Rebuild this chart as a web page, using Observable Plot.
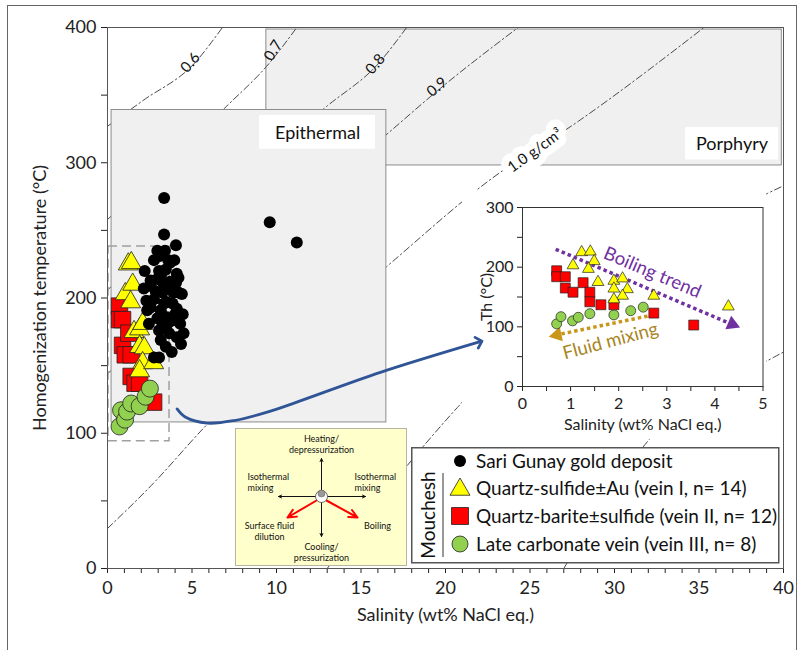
<!DOCTYPE html>
<html>
<head>
<meta charset="utf-8">
<script src="https://cdn.jsdelivr.net/npm/d3@7"></script>
<script src="https://cdn.jsdelivr.net/npm/@observablehq/plot@0.6"></script>
<style>
  body { margin: 0; background: #fff; font-family: Lato, "Open Sans", sans-serif; }
  #wrap { position: relative; width: 802px; height: 650px; overflow: hidden; background: #fff; }
  #border { position: absolute; left: 7px; top: 5px; width: 790px; height: 700px; border: 1.5px solid #666; box-sizing: border-box; }
</style>
</head>
<body>
<div id="wrap"><div id="border"></div></div>
<script>
// ---------------- DATA ----------------
// Sari Gunay gold deposit [salinity wt% NaCl eq., Th °C]
const sariGunay = [
  [3.35,274],[3.35,247],[4.05,239],[2.95,235],[3.4,235],[2.75,228],[3.95,228],[3.6,228],[3.1,231],
  [3.7,226],[2.2,220],[3.05,220],[3.45,221],[4.2,215],[2.55,213],[2.95,214],[3.7,212],[4.1,218],
  [3.2,218],[2.15,207],[3.25,204],[3.9,204],[4.4,203],[2.55,209],[3.6,208],[4.2,204],[2.75,199],
  [3.5,197],[3.35,196],[2.55,193],[4.1,192],[2.35,191],[3.15,191],[4.0,188],[3.45,186],[2.45,181],
  [3.55,181],[4.3,181],[3.05,176],[3.65,174],[4.5,174],[4.1,171],[3.15,169],[3.45,164],[2.75,156],
  [3.05,156],[3.8,160],[4.35,166],[2.95,185],[3.85,196],[2.85,205],[3.3,211],[4.45,188],[2.3,198],
  [4.05,211],[3.75,183],[3.25,180],[9.6,256],[11.2,241]
];
// Mouchesh veins
const veinI = [ // Quartz-sulfide±Au
  [1.05,203],[1.23,225],[1.41,226],[1.49,210],[1.37,197],[1.57,175],[1.90,177],[2.08,181],
  [1.90,164],[2.18,163],[2.08,152],[1.90,146],[2.73,152],[4.28,134]
];
const veinII = [ // Quartz-barite±sulfide
  [0.71,194],[0.71,184],[0.89,184],[0.89,165],[1.05,158],[1.26,174],[1.40,158],[1.40,142],
  [1.63,137],[1.90,137],[2.73,123],[3.56,103]
];
const veinIII = [ // Late carbonate vein
  [0.71,105],[0.80,117],[1.04,110],[1.16,116],[1.40,122],[1.90,120],[2.25,127],[2.51,133]
];
// Fields
const porphyryBox = {x1: 9.4, x2: 39.9, y1: 298, y2: 398.5};
const epithermalBox = {x1: 0.24, x2: 16.5, y1: 108, y2: 339};
const inclusionBox = {x1: 0.06, x2: 3.67, y1: 94, y2: 238};
const fieldLabelBoxes = [
  {x1: 9.0, x2: 15.86, y1: 310, y2: 335},
  {x1: 34.2, x2: 39.7, y1: 302, y2: 326}
];
const fieldLabels = [
  {x: 12.43, y: 322, text: "Epithermal"},
  {x: 36.95, y: 313.5, text: "Porphyry"}
];
// Isochores (density lines, g/cm3)
const iso06 = [[0,327],[2.1,346],[5.1,373],[6.8,400]];
const iso07 = [[0,258],[6.9,340],[9.6,374],[11.2,400]];
const iso08 = [[0,206],[13.0,342],[16.0,373],[17.7,400]];
const iso09 = [[0,144],[16.8,324],[19.5,353],[24.3,400]];
const iso10 = [[0,29.6],[2.7,62.8],[5.7,104],[16.5,223],[22.7,288],[27.9,331],[35.3,400]];
const iso11 = [[13.0,0],[18.8,92],[20.7,119],[39.0,277],[40,283]];
const iso12 = [[27.0,0],[32.1,96],[39.4,156],[40,160]];
const densityLabels = [
  {x: 4.9, y: 374, text: "0.6"},
  {x: 9.8, y: 383, text: "0.7"},
  {x: 15.85, y: 373, text: "0.8"},
  {x: 19.5, y: 356, text: "0.9"},
  {x: 25.3, y: 309, text: "1.0 g/cm³"}
];
const zoomArrow = [[4.12,118],[4.6,112],[5.9,107.5],[7.5,109.4],[9.45,115.6],[11.2,123],[16.15,145],[22.0,167.5]];
// Inset trends
const boilingTrend = [[0.69,230],[4.3,106]];
const boilingHead = [[4.36,104.5]];
const mixingTrend = [[2.6,118],[0.8,88]];
const mixingHead = [[0.72,86.5]];
const trendLabels = [
  {x: 2.70, y: 191, text: "Boiling trend"},
  {x: 1.83, y: 76, text: "Fluid mixing"}
];
// Process diagram (schematic units)
const diagCenter = [{x: 85, y: 67}];
const diagBlackArrows = [
  {x1: 85, y1: 62, x2: 85, y2: 29},
  {x1: 85, y1: 73, x2: 85, y2: 107},
  {x1: 80, y1: 67, x2: 42, y2: 67},
  {x1: 90, y1: 67, x2: 129, y2: 67}
];
const diagRedArrows = [
  {x1: 80, y1: 71, x2: 51, y2: 88},
  {x1: 90, y1: 71, x2: 121, y2: 88}
];
const diagLabelsMiddle = [
  {x: 85, y: 10, text: "Heating/"},
  {x: 85, y: 21, text: "depressurization"},
  {x: 33, y: 97, text: "Surface fluid"},
  {x: 33, y: 108, text: "dilution"},
  {x: 141, y: 97, text: "Boiling"},
  {x: 85, y: 118, text: "Cooling/"},
  {x: 85, y: 129, text: "pressurization"}
];
const diagLabelsStart = [
  {x: 11, y: 48, text: "Isothermal"},
  {x: 11, y: 59, text: "mixing"},
  {x: 118, y: 48, text: "Isothermal"},
  {x: 118, y: 59, text: "mixing"}
];
const legendLabels = [
  "Sari Gunay gold deposit",
  "Quartz-sulfide±Au (vein I, n= 14)",
  "Quartz-barite±sulfide (vein II, n= 12)",
  "Late carbonate vein (vein III, n= 8)"
];
const xTicks = d3.range(0, 41, 1);
const yTicks = d3.range(0, 401, 50);
const insetXTicks = d3.range(0, 5.01, 0.5);
const insetYTicks = d3.range(0, 301, 50);

// ---------------- RENDER ----------------
const FONT = "Lato, 'Open Sans', sans-serif";
const C = {yellow: "#ffff00", red: "#ff0000", green: "#92d050", black: "#000000"};
const wrap = document.getElementById("wrap");
const px = d => d[0], py = d => d[1];
const inMain = d => d[0] < 3.2;

const dashDot = {stroke: "#4a4a4a", strokeWidth: 1, strokeDasharray: "7,3,1.5,3", curve: "monotone-x", clip: true};
const rot = [-48, -58, -50, -40, -36];
const mainDims = {width: 802, height: 650, marginLeft: 107, marginRight: 19, marginTop: 27, marginBottom: 82,
  x: {domain: [0, 40]}, y: {domain: [0, 400]}};

const main = Plot.plot({
  ...mainDims,
  style: {fontFamily: FONT, fontSize: "18px", color: "#222", background: "transparent", overflow: "visible"},
  marks: [
    Plot.rect([porphyryBox], {x1: "x1", x2: "x2", y1: "y1", y2: "y2", fill: "#f0f0f0", stroke: "#8c8c8c"}),
    ...[iso06, iso07, iso08, iso09, iso10, iso11, iso12].map(l => Plot.line(l, {x: px, y: py, ...dashDot})),
    Plot.rect([epithermalBox], {x1: "x1", x2: "x2", y1: "y1", y2: "y2", fill: "#f0f0f0", stroke: "#8c8c8c"}),
    Plot.rect([inclusionBox], {x1: "x1", x2: "x2", y1: "y1", y2: "y2", fill: "none", stroke: "#a0a0a0", strokeWidth: 1.5, strokeDasharray: "9,5"}),
    Plot.rect(fieldLabelBoxes, {x1: "x1", x2: "x2", y1: "y1", y2: "y2", fill: "white"}),
    Plot.text(fieldLabels, {x: "x", y: "y", text: "text", fontSize: 18, fill: "#111"}),
    ...densityLabels.map((d, i) => Plot.text([d], {x: "x", y: "y", text: "text", rotate: rot[i], fontSize: 15, fill: "#111",
        stroke: i === 4 ? "white" : null, strokeWidth: 15, paintOrder: "stroke"})),
    Plot.dot(veinII.filter(inMain), {x: px, y: py, symbol: "square", r: 9.3, fill: C.red, stroke: "#222", strokeWidth: 0.8}),
    Plot.dot(veinI.filter(inMain), {x: px, y: py, symbol: "triangle", r: 7.4, fill: C.yellow, stroke: "#222", strokeWidth: 0.8}),
    Plot.dot(sariGunay, {x: px, y: py, r: 6, fill: C.black}),
    Plot.dot(veinIII, {x: px, y: py, r: 8.5, fill: C.green, stroke: "#222", strokeWidth: 0.8}),
    Plot.axisX({ticks: xTicks, tickFormat: d => d % 5 === 0 ? String(d) : "", tickSize: 5, tickPadding: 8,
      label: "Salinity (wt% NaCl eq.)", labelAnchor: "center", labelOffset: 52, labelArrow: "none", fontSize: 18}),
    Plot.axisY({ticks: yTicks, tickFormat: d => d % 100 === 0 ? String(d) : "", tickSize: 6, tickPadding: 5,
      label: "Homogenization temperature (°C)", labelAnchor: "center", labelOffset: 74, labelArrow: "none", fontSize: 18}),
    Plot.frame({stroke: "#555"})
  ]
});
main.style.position = "absolute"; main.style.left = "0px"; main.style.top = "0px";
wrap.appendChild(main);

// Inset
const inset = Plot.plot({
  width: 304, height: 249,
  marginLeft: 60, marginRight: 3.5, marginTop: 17, marginBottom: 53,
  x: {domain: [0, 5]},
  y: {domain: [0, 300]},
  style: {fontFamily: FONT, fontSize: "15.5px", color: "#222", background: "white", overflow: "visible"},
  marks: [
    Plot.line(boilingTrend, {x: px, y: py, stroke: "#7030a0", strokeWidth: 3.5, strokeDasharray: "3.5,3", strokeLinecap: "butt"}),
    Plot.dot(boilingHead, {x: px, y: py, symbol: "triangle", r: 5.5, fill: "#7030a0", rotate: 113}),
    Plot.line(mixingTrend, {x: px, y: py, stroke: "#c9961a", strokeWidth: 3.5, strokeDasharray: "3.5,3", strokeLinecap: "butt"}),
    Plot.dot(mixingHead, {x: px, y: py, symbol: "triangle", r: 5.5, fill: "#c9961a", rotate: 258}),
    Plot.text([trendLabels[0]], {x: "x", y: "y", text: "text", rotate: 23, fontSize: 18.5, fill: "#7030a0"}),
    Plot.text([trendLabels[1]], {x: "x", y: "y", text: "text", rotate: -15, fontSize: 18.5, fill: "#a8841c"}),
    Plot.dot(veinIII, {x: px, y: py, r: 5, fill: C.green, stroke: "#222", strokeWidth: 0.7}),
    Plot.dot(veinII, {x: px, y: py, symbol: "square", r: 5.6, fill: C.red, stroke: "#222", strokeWidth: 0.7}),
    Plot.dot(veinI, {x: px, y: py, symbol: "triangle", r: 4.4, fill: C.yellow, stroke: "#222", strokeWidth: 0.7}),
    Plot.axisX({ticks: insetXTicks, tickFormat: d => Number.isInteger(d) ? String(d) : "", tickSize: 5, tickPadding: 6,
      label: "Salinity (wt% NaCl eq.)", labelAnchor: "center", labelOffset: 43, labelArrow: "none", fontSize: 16}),
    Plot.axisY({ticks: insetYTicks, tickFormat: d => d % 100 === 0 ? String(d) : "", tickSize: 5, tickPadding: 4,
      label: "Th (°C)", labelAnchor: "center", labelOffset: 42, labelArrow: "none", fontSize: 16}),
    Plot.frame({stroke: "#333"})
  ]
});
inset.style.position = "absolute"; inset.style.left = "462px"; inset.style.top = "190px";
wrap.appendChild(inset);

// Zoom arrow on top of the inset (same scales as the main plot)
const arrowLayer = Plot.plot({
  ...mainDims,
  axis: null,
  style: {background: "transparent", overflow: "visible"},
  marks: [
    Plot.line(zoomArrow, {x: px, y: py, stroke: "#2f5597", strokeWidth: 2.8, curve: "catmull-rom", markerEnd: "arrow"})
  ]
});
arrowLayer.style.position = "absolute"; arrowLayer.style.left = "0px"; arrowLayer.style.top = "0px";
arrowLayer.style.pointerEvents = "none";
wrap.appendChild(arrowLayer);

// Process diagram
const diagram = Plot.plot({
  width: 170, height: 136, margin: 0,
  x: {domain: [0, 170], axis: null},
  y: {domain: [0, 136], reverse: true, axis: null},
  style: {fontFamily: FONT, fontSize: "9px", color: "#222", background: "#ffffcc", overflow: "visible"},
  marks: [
    Plot.arrow(diagBlackArrows, {x1: "x1", y1: "y1", x2: "x2", y2: "y2", stroke: "#111", strokeWidth: 1, headLength: 5, headAngle: 50}),
    Plot.arrow(diagRedArrows, {x1: "x1", y1: "y1", x2: "x2", y2: "y2", stroke: "#ff0000", strokeWidth: 2, headLength: 7, headAngle: 50}),
    Plot.dot(diagCenter, {x: "x", y: "y", r: 6, fill: "white", stroke: "#444", strokeWidth: 0.8}),
    Plot.dot(diagCenter, {x: "x", y: d => d.y - 3, r: 3.5, fill: "#9a9a9a", stroke: "#555", strokeWidth: 0.5}),
    Plot.text(diagLabelsMiddle, {x: "x", y: "y", text: "text", fill: "#111", lineHeight: 1}),
    Plot.text(diagLabelsStart, {x: "x", y: "y", text: "text", textAnchor: "start", fill: "#111", lineHeight: 1})
  ]
});
diagram.style.position = "absolute"; diagram.style.left = "236px"; diagram.style.top = "429px";
diagram.style.outline = "1px solid #b5b5a0";
wrap.appendChild(diagram);

// Legend
const lg = d3.create("svg").attr("width", 369).attr("height", 117)
  .style("position", "absolute").style("left", "411px").style("top", "447px")
  .style("font-family", FONT).style("overflow", "visible");
lg.append("rect").attr("x", 0.75).attr("y", 0.75).attr("width", 367).attr("height", 115)
  .attr("fill", "white").attr("stroke", "#555").attr("stroke-width", 1.5);
const rows = [14, 41, 69, 97];
const syms = [
  {type: d3.symbolCircle, size: Math.PI * 36, fill: C.black, stroke: "none"},
  {type: d3.symbolTriangle, size: Math.PI * 7.4 * 7.4, fill: C.yellow, stroke: "#222"},
  {type: d3.symbolSquare, size: 17 * 17, fill: C.red, stroke: "#222"},
  {type: d3.symbolCircle, size: Math.PI * 8 * 8, fill: C.green, stroke: "#222"}
];
legendLabels.forEach((t, i) => {
  lg.append("path").attr("d", d3.symbol(syms[i].type, syms[i].size)())
    .attr("transform", `translate(49,${rows[i] + (i === 1 ? 1.5 : 0)})`)
    .attr("fill", syms[i].fill).attr("stroke", syms[i].stroke).attr("stroke-width", 0.8);
  lg.append("text").attr("x", 65).attr("y", rows[i]).attr("dy", "0.35em")
    .attr("font-size", 19).attr("fill", "#111").text(t);
});
lg.append("line").attr("x1", 32).attr("x2", 32).attr("y1", 26).attr("y2", 110).attr("stroke", "#333").attr("stroke-width", 1);
lg.append("text").attr("transform", "translate(17,68) rotate(-90)").attr("text-anchor", "middle").attr("dy", "0.35em")
  .attr("font-size", 19).attr("fill", "#111").text("Mouchesh");
wrap.appendChild(lg.node());
</script>
</body>
</html>
